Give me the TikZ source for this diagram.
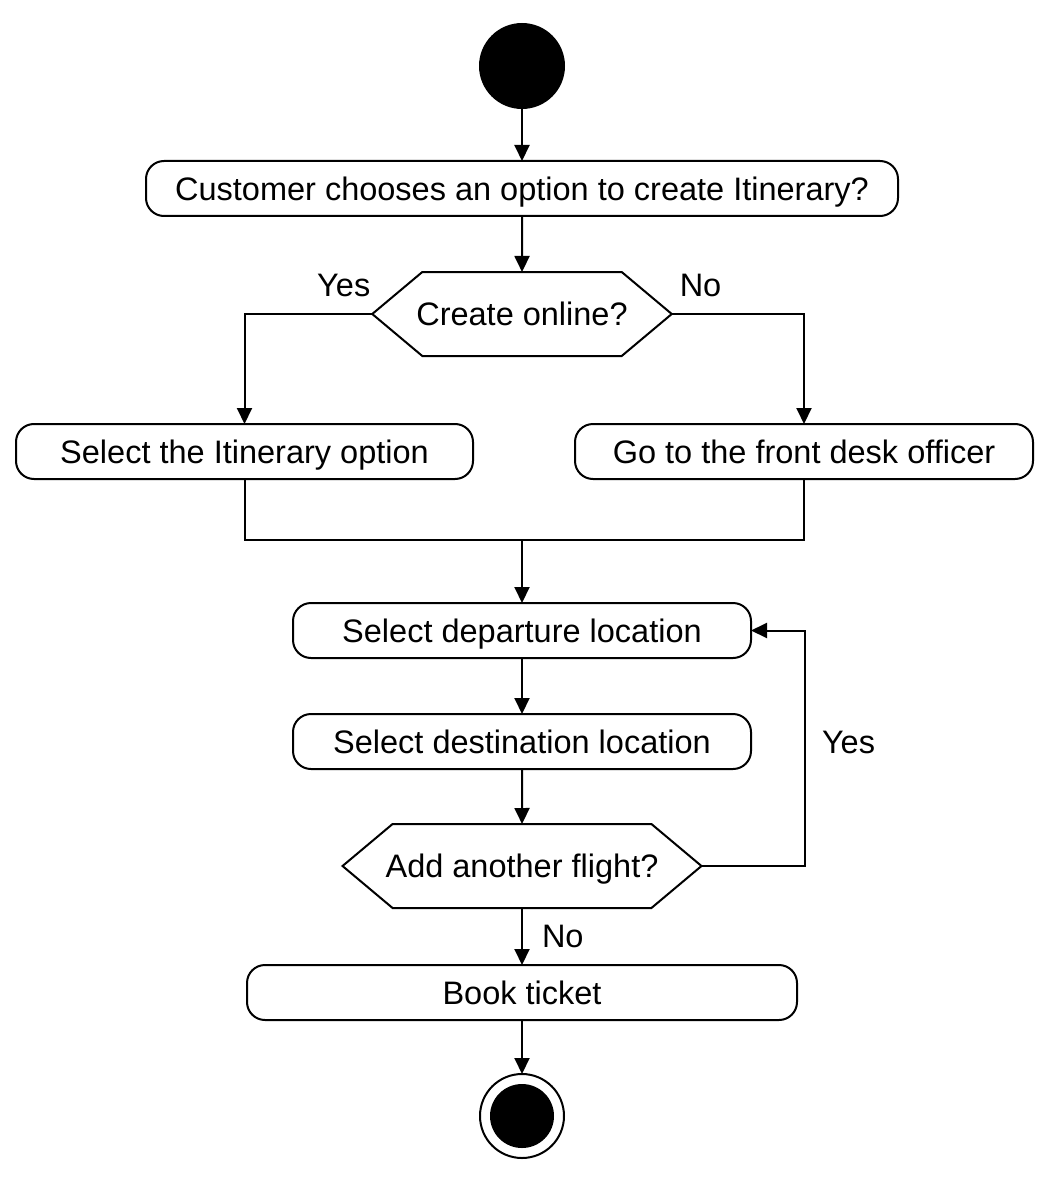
\documentclass[tikz,border=0pt]{standalone}
\usepackage{fontspec}
\setmainfont{Liberation Sans}
\usetikzlibrary{shapes,arrows.meta,positioning}

\begin{document}
\begin{tikzpicture}[% styles shared by the whole chart
				x=1pt,y=-1pt,
				every node/.style={
					font=\fontsize{32.5}{39}\selectfont,  % one size for every text
					outer sep=0pt
				},
				action/.style={rectangle,rounded corners=18pt,draw=black,fill=white,line width=2pt,minimum height=55pt,inner sep=0pt,text depth=0pt},
				decision/.style={signal,signal to=west and east,signal pointer angle=80,draw=black,fill=white,line width=2pt,minimum height=84pt,inner ysep=0pt,text depth=0pt},
				startdot/.style={circle,fill=black,minimum size=86pt,inner sep=0pt},
				enddot/.style={circle,draw=black,fill=white,line width=2pt,minimum size=84pt,inner sep=0pt,
					path picture={\fill[black] (path picture bounding box.center) circle (32pt);}},
				flow/.style={draw,line width=2pt,-{Triangle[length=16pt,width=15pt]}},
				lbl/.style={inner sep=0pt}
			]
			\useasboundingbox[fill=white] (0,0) rectangle (1054,1182);
			\node[startdot](start) at (522,66){};
			\node[action,minimum width=752pt](choose)[below=52pt of start]{Customer chooses an option to create Itinerary?};
			\node[decision,inner xsep=-6pt](online)[below=56pt of choose]{Create online?};
			\node[action,minimum width=457pt](itin)[below=68pt of online,xshift=-277.5pt]{Select the Itinerary option};
			\node[action,minimum width=458pt](desk)[below=68pt of online,xshift=282pt]{Go to the front desk officer};
			\coordinate (merge) at ([yshift=-61pt]online |- itin.south);
			\node[action,minimum width=458pt](depart)[below=63pt of merge]{Select departure location};
			\node[action,minimum width=458pt](dest)[below=56pt of depart]{Select destination location};
			\node[decision,inner xsep=-7pt](another)[below=55pt of dest]{Add another flight?};
			\node[action,minimum width=550pt](book)[below=57pt of another]{Book ticket};
			\node[enddot](stop)[below=54pt of book]{};
			\path[flow]
			(start) -- (choose);
			\path[flow]
			(choose) -- (online);
			\path[flow]
			(online.west) -| node[lbl,pos=0,above left=17pt and 2pt]{Yes} (itin.north);
			\path[flow]
			(online.east) -| node[lbl,pos=0,above right=17pt and 8pt]{No} (desk.north);
			\draw[line width=2pt]
			(itin.south) |- (merge) -| (desk.south);
			\path[flow]
			(merge) -- (depart);
			\path[flow]
			(depart) -- (dest);
			\path[flow]
			(dest) -- (another);
			\path[flow]
			(another.east) -| node[lbl,pos=0.763,right=17pt]{Yes} ([xshift=54pt]depart.east) -- (depart.east);
			\path[flow]
			(another) -- node[lbl,midway,right=20pt]{No} (book);
			\path[flow]
			(book) -- (stop);
		\end{tikzpicture}
\end{document}
